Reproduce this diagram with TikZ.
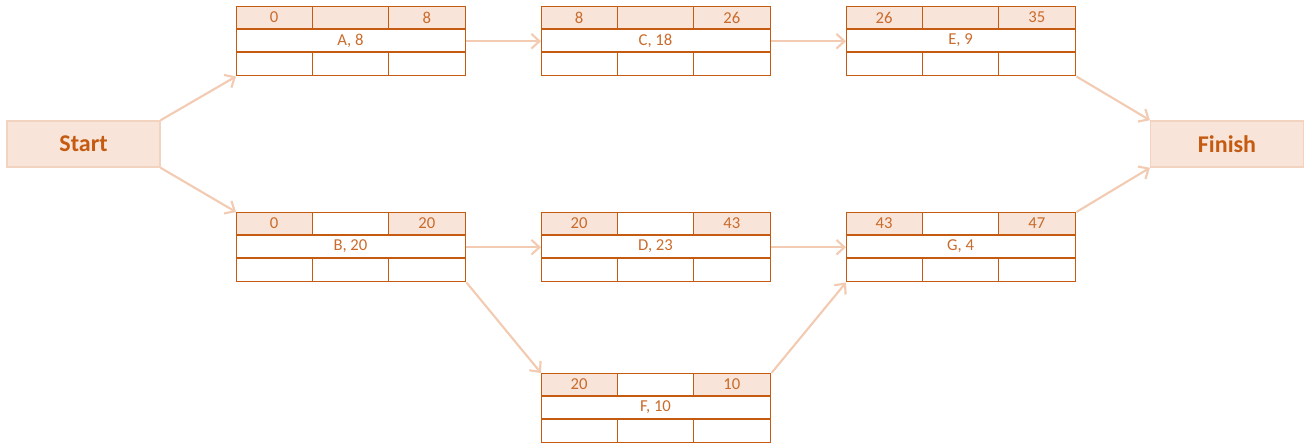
\documentclass[tikz,border=0pt]{standalone}
\usepackage{fontspec}
\setmainfont{Carlito}
\usetikzlibrary{arrows.meta}
\definecolor{bord}{HTML}{C55A11}
\definecolor{cellfill}{HTML}{F8E4D8}
\definecolor{celltxt}{HTML}{C96B2C}
\definecolor{arrowc}{HTML}{F2CBB2}
\definecolor{endbord}{HTML}{F2D3C0}
\tikzset{
  frame/.style={draw=bord, line width=1.1pt, minimum width=171.75pt, minimum height=51.75pt, inner sep=0pt, anchor=north west},
  gridline/.style={draw=bord, line width=1.1pt},
  celltext/.style={text=celltxt, font=\fontsize{12.5}{14}\selectfont, inner sep=0pt},
  endbox/.style={draw=endbord, fill=cellfill, line width=1.2pt, minimum width=114.5pt, minimum height=34.5pt, text=bord, font=\fontsize{18}{21}\selectfont\bfseries},
  conn/.style={draw=arrowc, line width=1.6pt, -{Straight Barb[length=6pt,width=11pt,line width=1.6pt]}}
}
% #1 name, #2 x, #3 y, #4 es, #5 ef, #6 label, #7 middle fill colour
\newcommand{\actbox}[7]{%
  \fill[cellfill] (#2,#3) rectangle ++(76.33,23);
  \fill[#7] (#2+76.33,#3) rectangle ++(76.33,23);
  \fill[cellfill] (#2+152.67,#3) rectangle ++(76.33,23);
  \draw[gridline] (#2,#3+23) -- ++(229,0);
  \draw[gridline] (#2,#3+46) -- ++(229,0);
  \draw[gridline] (#2+76.33,#3) -- ++(0,23);
  \draw[gridline] (#2+152.67,#3) -- ++(0,23);
  \draw[gridline] (#2+76.33,#3+46) -- ++(0,23);
  \draw[gridline] (#2+152.67,#3+46) -- ++(0,23);
  \node[frame] (#1) at (#2,#3) {};
  \node[celltext] (#1-es) at (#2+38.17,#3+11.5) {#4};
  \node[celltext] (#1-ef) at (#2+190.83,#3+11.5) {#5};
  \node[celltext] (#1-lb) at (#2+114.5,#3+34.5) {#6};
}
\begin{document}
\begin{tikzpicture}[x=0.75pt,y=-0.75pt]
\useasboundingbox (0,0) rectangle (1309,444);
\actbox{A}{236}{6}{0}{8}{A, 8}{cellfill}
\actbox{C}{541}{6}{8}{26}{C, 18}{cellfill}
\actbox{E}{846}{6}{26}{35}{E, 9}{cellfill}
\actbox{B}{236}{212}{0}{20}{B, 20}{white}
\actbox{D}{541}{212}{20}{43}{D, 23}{white}
\actbox{G}{846}{212}{43}{47}{G, 4}{white}
\actbox{F}{541}{373}{20}{10}{F, 10}{white}
\node[endbox] (start) at (83.5,144) {Start};
\node[endbox] (finish) at (1227,144) {Finish};
\draw[conn] (start.north east) -- (A.south west);
\draw[conn] (start.south east) -- (B.north west);
\draw[conn] (A.east) -- (C.west);
\draw[conn] (C.east) -- (E.west);
\draw[conn] (E.south east) -- (finish.north west);
\draw[conn] (B.east) -- (D.west);
\draw[conn] (D.east) -- (G.west);
\draw[conn] (G.north east) -- (finish.south west);
\draw[conn] (B.south east) -- (F.north west);
\draw[conn] (F.north east) -- (G.south west);
\end{tikzpicture}
\end{document}
